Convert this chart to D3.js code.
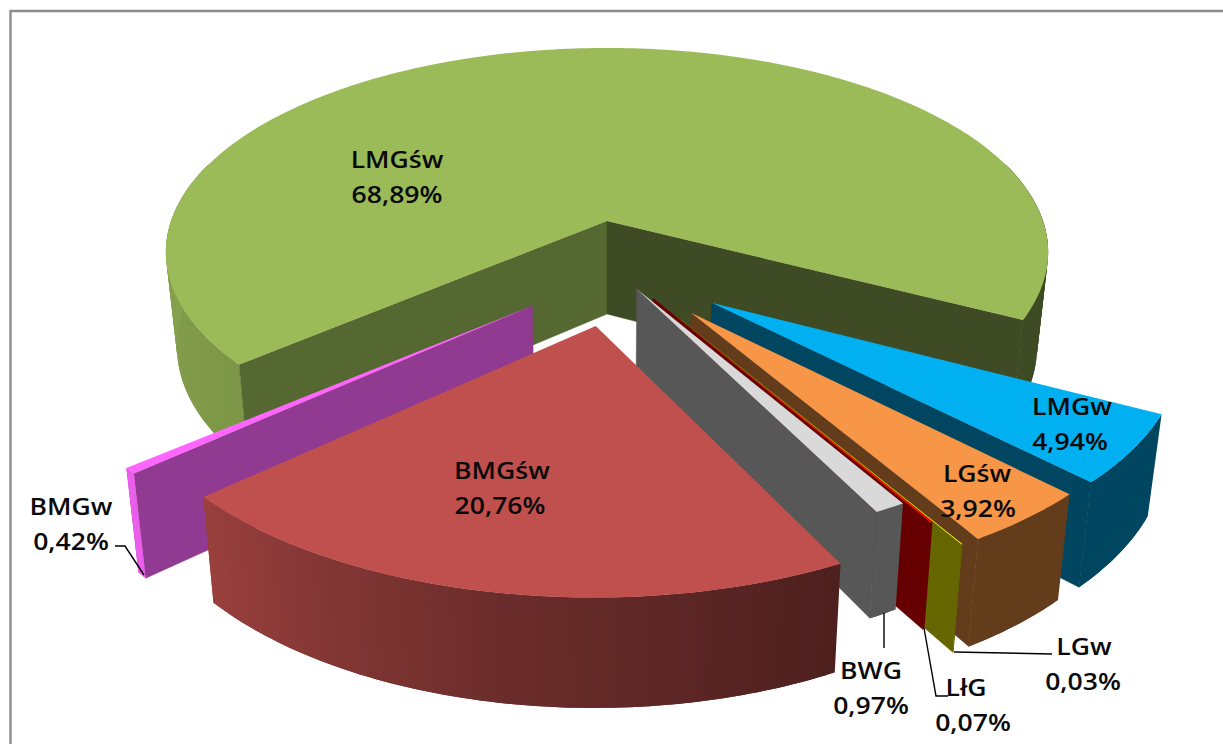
<!DOCTYPE html>
<html><head><meta charset="utf-8">
<style>html,body{margin:0;padding:0;background:#fff}svg{display:block}
text{font-family:"Open Sans",sans-serif;font-weight:600;font-size:23.5px;fill:#0a0a0a;text-anchor:middle;dominant-baseline:central}</style>
<script src="https://cdn.jsdelivr.net/npm/d3@7/dist/d3.min.js"></script></head><body>
<script>
const categories=["LMGśw","LMGw","LGśw","LGw","LłG","BWG","BMGśw","BMGw"];
const shares=[68.89,4.94,3.92,0.03,0.07,0.97,20.76,0.42];
const tickLabels=["68,89%","4,94%","3,92%","0,03%","0,07%","0,97%","20,76%","0,42%"];
const colors=["#9bbb59","#00b0f0","#f79646","#ffff00","#ff0000","#d9d9d9","#c0504d","#ff66ff"];
// layout (slice offsets and radii in disc radii, label centres and leaders in px)
const explodeU=[0,.226,.18,.145,.10,.065,-.024,-.161];
const explodeV=[0,.386,.43,.44,.366,.324,.488,.40];
const radiusU=[1,.995,.992,1,1,.98,.997,1.008];
const radiusV=[1,.995,.992,1,1,.975,.98,.99];
const paintOrder=[0,1,2,3,4,5,7,6];
const nameX=[397,1072,977,1084,966,871,502,71];
const valueX=[397,1070,978,1083,973,871,500,71];
const labelY=[176.5,423,490,663,704,687,487,523];
const leaders=[null,null,null,[[954,652],[1052,654]],[[924,628],[936,696],[948,696]],[[884,613],[884,648]],null,[[115,546],[125,546],[144,575]]];

const W=1223,H=744;
const X0=607,Y0=221,A=436,B=199.3,K=.152,DEPTH=93,C=.975,STRETCH=1.13;
const rad=d=>d*Math.PI/180;
function project(u,v,bottom){
  const s=1/(1-K*v), c=bottom?C:1;
  return [X0+A*u*s*c, Y0+(B*v*c+(bottom?DEPTH:0))*s];
}
function shade(col,f){const c=d3.rgb(col);return d3.rgb(c.r*f,c.g*f,c.b*f).formatHex();}
const rimScale=d3.scaleLinear().domain([0,153,190,228,270,360]).range([.4,.4,.56,.8,.87,.4]).clamp(true);
const rimShade=a=>rimScale(((a%360)+360)%360);

const svg=d3.select("body").append("svg").attr("width",W).attr("height",H);
svg.append("rect").attr("width",W).attr("height",H).attr("fill","#fff");
svg.append("path").attr("d",`M10.5,${H+5}V11H${W+5}`).attr("fill","none").attr("stroke","#8c8c8c").attr("stroke-width",2.4);

const pie=d3.pie().sort(null).startAngle(rad(229.5)).endAngle(rad(589.5));
const arcs=pie(shares);
const line=d3.line();
const g=svg.append("g");
paintOrder.forEach(i=>{
  const a=arcs[i],ox=explodeU[i],oy=explodeV[i],col=colors[i],RU=radiusU[i],RV=radiusV[i];
  const n=Math.max(2,Math.ceil((a.endAngle-a.startAngle)/rad(1)));
  const ang=d3.range(n+1).map(k=>a.startAngle+(a.endAngle-a.startAngle)*k/n);
  const pt=(t,b)=>project(ox+RU*Math.sin(t),oy-RV*Math.cos(t),b);
  const ap=b=>project(ox,oy,b);
  const gs=g.append("g").attr("class","slice").attr("data-name",categories[i]);
  // outer rim: front-facing part only, each strip overlapping the next to hide seams
  const front=k=>ang[k]!==undefined && (oy-RV*Math.cos(ang[k]))>-.3;
  for(let k=0;k<n;k++){
    if(!front(k)||!front(k+1))continue;
    const e=front(k+2)?k+2:k+1;
    const f=rimShade((ang[k]+ang[k+1])/2*180/Math.PI), fill=shade(col,f);
    const top=[],bot=[];
    for(let m=k;m<=e;m++){top.push(pt(ang[m],0));bot.unshift(pt(ang[m],1));}
    gs.append("path").attr("d",line(top.concat(bot))+"Z").attr("fill",fill);
  }
  // walls
  const wall=(t,f)=>{const c=shade(col,f);gs.append("path").attr("d",line([ap(0),pt(t,0),pt(t,1),ap(1)])+"Z").attr("fill",c).attr("stroke",c).attr("stroke-width",.5);};
  if(i===0){wall(a.startAngle,.555);wall(a.endAngle,.4);}
  else if(i===7){wall(a.startAngle,.57);}
  else if(i!==6){wall(a.endAngle,.4);}
  if(i===7){ // the thin slice's rim, lit
    gs.append("path").attr("d",line([pt(a.startAngle,0),pt(a.endAngle,0),pt(a.endAngle,1),pt(a.startAngle,1)])+"Z").attr("fill",shade(col,.92));
  }
  // top face
  gs.append("path").attr("d",line([ap(0)].concat(ang.map(t=>pt(t,0))))+"Z").attr("fill",col);
});
// labels
categories.forEach((c,i)=>{
  const t=svg.append("g");
  [[c,nameX[i],-17.5],[tickLabels[i],valueX[i],17.5]].forEach(([s,x,dy])=>{
    t.append("text").attr("transform",`translate(${x},${labelY[i]+dy}) scale(${STRETCH},1)`).text(s);
  });
  if(leaders[i])t.append("path").attr("d",line(leaders[i])).attr("fill","none").attr("stroke","#000").attr("stroke-width",1.4);
});
</script></body></html>
